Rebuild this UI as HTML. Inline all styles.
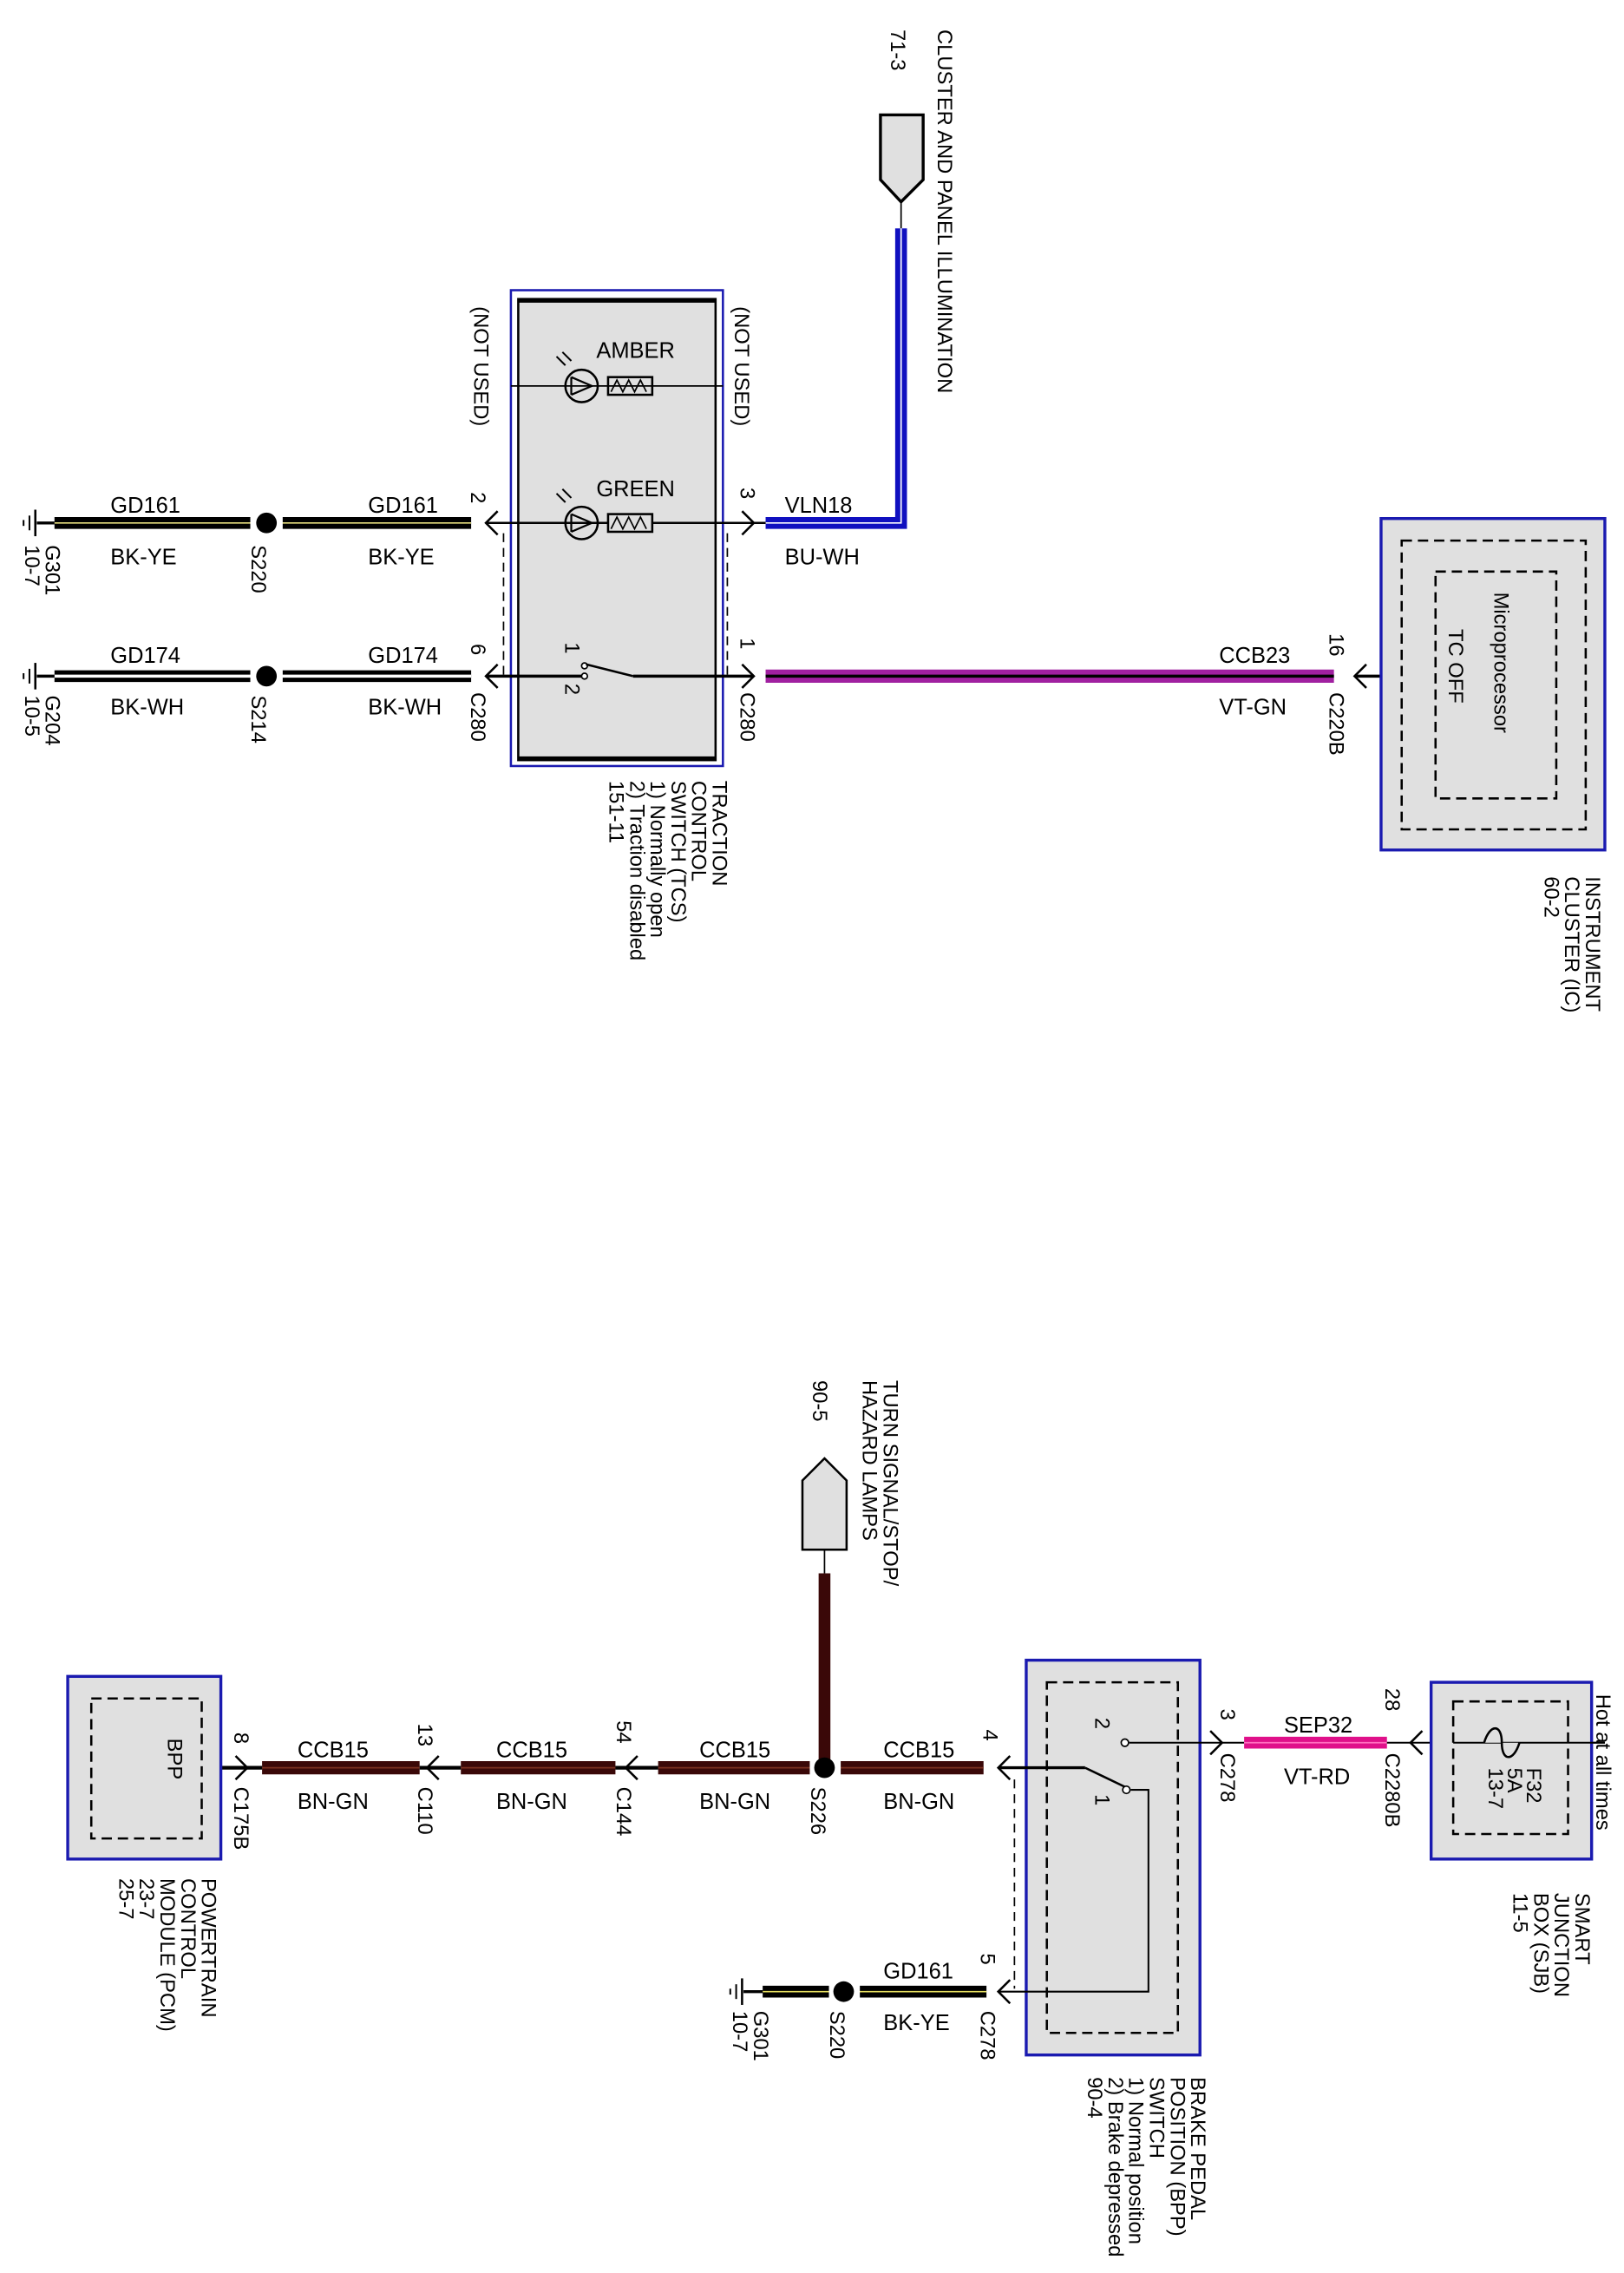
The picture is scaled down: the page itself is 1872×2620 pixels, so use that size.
<!DOCTYPE html>
<html><head><meta charset="utf-8"><style>
html,body{margin:0;padding:0;background:#fff;}
svg{display:block;}
text{font-family:"Liberation Sans",sans-serif;font-size:15px;fill:#000;}
.r{font-size:14px;}
</style></head><body>
<svg width="1872" height="2620" viewBox="0 0 1103 1543" preserveAspectRatio="none" xmlns="http://www.w3.org/2000/svg">
<defs>
<g id="gnd"><line x1="0" y1="-9" x2="0" y2="9" stroke="#000" stroke-width="1.5"/><line x1="-4" y1="-5" x2="-4" y2="5" stroke="#000" stroke-width="1.2"/><line x1="-8" y1="-2" x2="-8" y2="2" stroke="#000" stroke-width="1.2"/></g>
</defs>

<!-- ===== TOP ===== -->
<!-- cluster connector -->
<path d="M598,78 H627 V122 L612,137 L598,122 Z" fill="#e0e0e0" stroke="#000" stroke-width="2"/>
<line x1="612" y1="137" x2="612" y2="155" stroke="#000" stroke-width="1"/>
<text class="r" transform="translate(637,20) rotate(90)">CLUSTER AND PANEL ILLUMINATION</text>
<text class="r" transform="translate(605,20) rotate(90)">71-3</text>
<!-- blue wire -->
<path d="M612,155 V355 H520" fill="none" stroke="#1010c0" stroke-width="8"/>
<path d="M612,155 V355 H520" fill="none" stroke="#fff" stroke-width="1"/>

<!-- TCS box -->
<rect x="347" y="197" width="144" height="323" fill="#fff" stroke="#1a1ab0" stroke-width="1.5"/>
<rect x="352" y="203" width="134" height="313" fill="#e0e0e0" stroke="#000" stroke-width="1.5"/>
<line x1="352" y1="204" x2="486" y2="204" stroke="#000" stroke-width="3"/>
<line x1="352" y1="515" x2="486" y2="515" stroke="#000" stroke-width="3"/>
<line x1="342" y1="362" x2="342" y2="459" stroke="#000" stroke-width="1" stroke-dasharray="6,4"/>
<line x1="494" y1="362" x2="494" y2="459" stroke="#000" stroke-width="1" stroke-dasharray="6,4"/>
<!-- amber row -->
<line x1="347" y1="262" x2="491" y2="262" stroke="#000" stroke-width="1"/>
<circle cx="395" cy="262" r="11" fill="none" stroke="#000" stroke-width="1.5"/>
<path d="M388,256 L402,262 L388,268 M388,256 V268" fill="none" stroke="#000" stroke-width="1.3"/>
<path d="M384,248 L378,242 M388,245 L382,239" stroke="#000" stroke-width="1.2"/>
<rect x="413" y="256" width="30" height="12" fill="none" stroke="#000" stroke-width="1.5"/>
<path d="M415,266 L419,258 L423,266 L427,258 L431,266 L435,258 L439,266" fill="none" stroke="#000" stroke-width="1"/>
<text x="405" y="243">AMBER</text>
<!-- green row -->
<line x1="330" y1="355" x2="520" y2="355" stroke="#000" stroke-width="1.5"/>
<circle cx="395" cy="355" r="11" fill="none" stroke="#000" stroke-width="1.5"/>
<path d="M388,349 L402,355 L388,361 M388,349 V361" fill="none" stroke="#000" stroke-width="1.3"/>
<path d="M384,341 L378,335 M388,338 L382,332" stroke="#000" stroke-width="1.2"/>
<rect x="413" y="349" width="30" height="12" fill="#e0e0e0" stroke="#000" stroke-width="1.5"/>
<path d="M415,359 L419,351 L423,359 L427,351 L431,359 L435,351 L439,359" fill="none" stroke="#000" stroke-width="1"/>
<text x="405" y="337">GREEN</text>
<text class="r" transform="translate(322,208) rotate(90)">(NOT USED)</text>
<text class="r" transform="translate(499,208) rotate(90)">(NOT USED)</text>
<!-- switch row -->
<line x1="330" y1="459" x2="397" y2="459" stroke="#000" stroke-width="2"/>
<circle cx="397" cy="452" r="2" fill="#fff" stroke="#000"/>
<circle cx="397" cy="459" r="2" fill="#fff" stroke="#000"/>
<line x1="398" y1="451" x2="430" y2="459" stroke="#000" stroke-width="1.5"/>
<line x1="430" y1="459" x2="512" y2="459" stroke="#000" stroke-width="2"/>
<text class="r" transform="translate(384,436) rotate(90)">1</text>
<text class="r" transform="translate(384,464) rotate(90)">2</text>
<!-- pins -->
<path d="M338,347 L330,355 L338,363" fill="none" stroke="#000" stroke-width="1.5"/>
<path d="M338,451 L330,459 L338,467" fill="none" stroke="#000" stroke-width="1.5"/>
<path d="M504,347 L512,355 L504,363" fill="none" stroke="#000" stroke-width="1.5"/>
<path d="M504,451 L512,459 L504,467" fill="none" stroke="#000" stroke-width="1.5"/>
<text class="r" transform="translate(320,334) rotate(90)">2</text>
<text class="r" transform="translate(320,437) rotate(90)">6</text>
<text class="r" transform="translate(320,470) rotate(90)">C280</text>
<text class="r" transform="translate(503,331) rotate(90)">3</text>
<text class="r" transform="translate(503,433) rotate(90)">1</text>
<text class="r" transform="translate(503,470) rotate(90)">C280</text>
<text x="533" y="348">VLN18</text>
<text x="533" y="383">BU-WH</text>
<text class="r" transform="translate(484,530) rotate(90)"><tspan x="0" dy="0">TRACTION</tspan><tspan x="0" dy="14">CONTROL</tspan><tspan x="0" dy="14">SWITCH (TCS)</tspan><tspan x="0" dy="14">1) Normally open</tspan><tspan x="0" dy="14">2) Traction disabled</tspan><tspan x="0" dy="14">151-11</tspan></text>

<!-- left wires -->
<line x1="37" y1="355" x2="320" y2="355" stroke="#000" stroke-width="8"/>
<line x1="37" y1="355" x2="320" y2="355" stroke="#e8e080" stroke-width="1"/>
<line x1="170" y1="355" x2="192" y2="355" stroke="#fff" stroke-width="9"/>
<circle cx="181" cy="355" r="7" fill="#000"/>
<line x1="37" y1="459" x2="320" y2="459" stroke="#000" stroke-width="8"/>
<line x1="37" y1="459" x2="320" y2="459" stroke="#fff" stroke-width="2"/>
<line x1="170" y1="459" x2="192" y2="459" stroke="#fff" stroke-width="9"/>
<circle cx="181" cy="459" r="7" fill="#000"/>
<line x1="25" y1="355" x2="37" y2="355" stroke="#000" stroke-width="2"/>
<line x1="25" y1="459" x2="37" y2="459" stroke="#000" stroke-width="2"/>
<use href="#gnd" x="24" y="355"/>
<use href="#gnd" x="24" y="459"/>
<text x="75" y="348">GD161</text><text x="75" y="383">BK-YE</text>
<text x="250" y="348">GD161</text><text x="250" y="383">BK-YE</text>
<text x="75" y="450">GD174</text><text x="75" y="485">BK-WH</text>
<text x="250" y="450">GD174</text><text x="250" y="485">BK-WH</text>
<text class="r" transform="translate(171,370) rotate(90)">S220</text>
<text class="r" transform="translate(171,472) rotate(90)">S214</text>
<text class="r" transform="translate(31,370) rotate(90)"><tspan x="0">G301</tspan><tspan x="0" dy="14">10-7</tspan></text>
<text class="r" transform="translate(31,472) rotate(90)"><tspan x="0">G204</tspan><tspan x="0" dy="14">10-5</tspan></text>

<!-- CCB23 purple -->
<line x1="520" y1="459" x2="906" y2="459" stroke="#a020a0" stroke-width="9"/>
<line x1="520" y1="459" x2="906" y2="459" stroke="#000" stroke-width="2"/>
<text x="828" y="450">CCB23</text><text x="828" y="485">VT-GN</text>
<line x1="920" y1="459" x2="975" y2="459" stroke="#000" stroke-width="2"/>
<path d="M928,451 L920,459 L928,467" fill="none" stroke="#000" stroke-width="1.5"/>
<text class="r" transform="translate(903,430) rotate(90)">16</text>
<text class="r" transform="translate(903,470) rotate(90)">C220B</text>
<!-- IC box -->
<rect x="938" y="352" width="152" height="225" fill="#e0e0e0" stroke="#1a1ab0" stroke-width="2"/>
<rect x="952" y="367" width="125" height="196" fill="none" stroke="#000" stroke-width="1.5" stroke-dasharray="7,4"/>
<rect x="975" y="388" width="82" height="154" fill="none" stroke="#000" stroke-width="1.5" stroke-dasharray="7,4"/>
<text class="r" transform="translate(1015,402) rotate(90)">Microprocessor</text>
<text class="r" transform="translate(984,427) rotate(90)">TC OFF</text>
<text class="r" transform="translate(1077,595) rotate(90)"><tspan x="0">INSTRUMENT</tspan><tspan x="0" dy="14">CLUSTER (IC)</tspan><tspan x="0" dy="14">60-2</tspan></text>

<!-- ===== BOTTOM ===== -->
<path d="M560,990 L575,1005 V1052 H545 V1005 Z" fill="#e0e0e0" stroke="#000" stroke-width="1.5"/>
<line x1="560" y1="1052" x2="560" y2="1068" stroke="#000" stroke-width="1"/>
<line x1="560" y1="1068" x2="560" y2="1200" stroke="#3a0808" stroke-width="8"/>
<text class="r" transform="translate(600,937) rotate(90)"><tspan x="0">TURN SIGNAL/STOP/</tspan><tspan x="0" dy="14">HAZARD LAMPS</tspan></text>
<text class="r" transform="translate(552,937) rotate(90)">90-5</text>

<!-- CCB15 segments -->
<g stroke="#3a0808" stroke-width="9">
<line x1="178" y1="1200" x2="285" y2="1200"/>
<line x1="313" y1="1200" x2="418" y2="1200"/>
<line x1="447" y1="1200" x2="668" y2="1200"/>
</g>
<g stroke="#7a3020" stroke-width="1">
<line x1="178" y1="1200" x2="285" y2="1200"/>
<line x1="313" y1="1200" x2="418" y2="1200"/>
<line x1="447" y1="1200" x2="668" y2="1200"/>
</g>
<line x1="150" y1="1200" x2="178" y2="1200" stroke="#000" stroke-width="2.5"/>
<line x1="285" y1="1200" x2="313" y2="1200" stroke="#000" stroke-width="2.5"/>
<line x1="418" y1="1200" x2="447" y2="1200" stroke="#000" stroke-width="2.5"/>
<line x1="550" y1="1200" x2="571" y2="1200" stroke="#fff" stroke-width="10"/>
<circle cx="560" cy="1200" r="7" fill="#000"/>
<path d="M160,1192 L168,1200 L160,1208" fill="none" stroke="#000" stroke-width="1.5"/>
<path d="M298,1192 L290,1200 L298,1208" fill="none" stroke="#000" stroke-width="1.5"/>
<path d="M433,1192 L425,1200 L433,1208" fill="none" stroke="#000" stroke-width="1.5"/>
<path d="M686,1192 L678,1200 L686,1208" fill="none" stroke="#000" stroke-width="1.5"/>
<text x="202" y="1193">CCB15</text><text x="202" y="1228">BN-GN</text>
<text x="337" y="1193">CCB15</text><text x="337" y="1228">BN-GN</text>
<text x="475" y="1193">CCB15</text><text x="475" y="1228">BN-GN</text>
<text x="600" y="1193">CCB15</text><text x="600" y="1228">BN-GN</text>
<text class="r" transform="translate(159,1176) rotate(90)">8</text>
<text class="r" transform="translate(159,1213) rotate(90)">C175B</text>
<text class="r" transform="translate(284,1170) rotate(90)">13</text>
<text class="r" transform="translate(284,1213) rotate(90)">C110</text>
<text class="r" transform="translate(419,1168) rotate(90)">54</text>
<text class="r" transform="translate(419,1213) rotate(90)">C144</text>
<text class="r" transform="translate(551,1213) rotate(90)">S226</text>
<text class="r" transform="translate(668,1174) rotate(90)">4</text>

<!-- PCM -->
<rect x="46" y="1138" width="104" height="124" fill="#e0e0e0" stroke="#1a1ab0" stroke-width="2"/>
<rect x="62" y="1153" width="75" height="95" fill="none" stroke="#000" stroke-width="1.5" stroke-dasharray="7,4"/>
<text class="r" transform="translate(114,1180) rotate(90)">BPP</text>
<text class="r" transform="translate(137,1275) rotate(90)"><tspan x="0">POWERTRAIN</tspan><tspan x="0" dy="14">CONTROL</tspan><tspan x="0" dy="14">MODULE (PCM)</tspan><tspan x="0" dy="14">23-7</tspan><tspan x="0" dy="14">25-7</tspan></text>

<!-- BPP switch -->
<rect x="697" y="1127" width="118" height="268" fill="#e0e0e0" stroke="#1a1ab0" stroke-width="2"/>
<rect x="711" y="1142" width="89" height="238" fill="none" stroke="#000" stroke-width="1.5" stroke-dasharray="7,4"/>
<line x1="689" y1="1208" x2="689" y2="1350" stroke="#000" stroke-width="1" stroke-dasharray="6,4"/>
<line x1="678" y1="1200" x2="737" y2="1200" stroke="#000" stroke-width="2"/>
<line x1="737" y1="1200" x2="764" y2="1213" stroke="#000" stroke-width="1.5"/>
<circle cx="765" cy="1215" r="2.5" fill="#fff" stroke="#000"/>
<circle cx="764" cy="1183" r="2.5" fill="#fff" stroke="#000"/>
<path d="M768,1215 H780 V1352 H678" fill="none" stroke="#000" stroke-width="1.2"/>
<line x1="767" y1="1183" x2="830" y2="1183" stroke="#000" stroke-width="1.2"/>
<text class="r" transform="translate(744,1166) rotate(90)">2</text>
<text class="r" transform="translate(744,1218) rotate(90)">1</text>
<text class="r" transform="translate(809,1410) rotate(90)"><tspan x="0">BRAKE PEDAL</tspan><tspan x="0" dy="14">POSITION (BPP)</tspan><tspan x="0" dy="14">SWITCH</tspan><tspan x="0" dy="14">1) Normal position</tspan><tspan x="0" dy="14">2) Brake depressed</tspan><tspan x="0" dy="14">90-4</tspan></text>
<path d="M686,1344 L678,1352 L686,1360" fill="none" stroke="#000" stroke-width="1.5"/>
<text class="r" transform="translate(666,1326) rotate(90)">5</text>
<text class="r" transform="translate(666,1365) rotate(90)">C278</text>
<!-- ground GD161 -->
<line x1="518" y1="1352" x2="670" y2="1352" stroke="#000" stroke-width="8"/>
<line x1="518" y1="1352" x2="670" y2="1352" stroke="#e8e060" stroke-width="1"/>
<line x1="563" y1="1352" x2="584" y2="1352" stroke="#fff" stroke-width="9"/>
<circle cx="573" cy="1352" r="7" fill="#000"/>
<line x1="505" y1="1352" x2="518" y2="1352" stroke="#000" stroke-width="2"/>
<use href="#gnd" x="504" y="1352"/>
<text x="600" y="1343">GD161</text><text x="600" y="1378">BK-YE</text>
<text class="r" transform="translate(564,1365) rotate(90)">S220</text>
<text class="r" transform="translate(512,1365) rotate(90)"><tspan x="0">G301</tspan><tspan x="0" dy="14">10-7</tspan></text>

<!-- SEP32 -->
<path d="M822,1175 L830,1183 L822,1191" fill="none" stroke="#000" stroke-width="1.5"/>
<text class="r" transform="translate(829,1160) rotate(90)">3</text>
<text class="r" transform="translate(829,1190) rotate(90)">C278</text>
<line x1="830" y1="1183" x2="845" y2="1183" stroke="#000" stroke-width="1.2"/>
<line x1="845" y1="1183" x2="942" y2="1183" stroke="#e0108a" stroke-width="8"/>
<line x1="845" y1="1183" x2="942" y2="1183" stroke="#ff70c0" stroke-width="1"/>
<text x="872" y="1176">SEP32</text><text x="872" y="1211">VT-RD</text>
<line x1="942" y1="1183" x2="1090" y2="1183" stroke="#000" stroke-width="1.2"/>
<path d="M966,1175 L958,1183 L966,1191" fill="none" stroke="#000" stroke-width="1.5"/>
<text class="r" transform="translate(941,1146) rotate(90)">28</text>
<text class="r" transform="translate(941,1190) rotate(90)">C2280B</text>
<!-- SJB -->
<rect x="972" y="1142" width="109" height="120" fill="#e0e0e0" stroke="#1a1ab0" stroke-width="2"/>
<rect x="987" y="1155" width="78" height="90" fill="none" stroke="#000" stroke-width="1.5" stroke-dasharray="7,4"/>
<line x1="987" y1="1183" x2="1090" y2="1183" stroke="#000" stroke-width="1.2"/>
<path d="M1008,1183 C1012,1170 1020,1170 1020,1183 C1020,1196 1028,1196 1032,1183" fill="#e0e0e0" stroke="#000" stroke-width="1.5"/>
<text class="r" transform="translate(1037,1200) rotate(90)"><tspan x="0">F32</tspan><tspan x="0" dy="13">5A</tspan><tspan x="0" dy="13">13-7</tspan></text>
<text class="r" transform="translate(1084,1150) rotate(90)">Hot at all times</text>
<text class="r" transform="translate(1070,1285) rotate(90)"><tspan x="0">SMART</tspan><tspan x="0" dy="14">JUNCTION</tspan><tspan x="0" dy="14">BOX (SJB)</tspan><tspan x="0" dy="14">11-5</tspan></text>
</svg>
</body></html>
